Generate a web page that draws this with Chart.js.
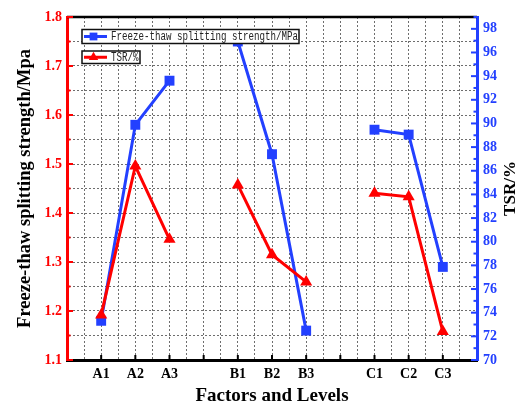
<!DOCTYPE html>
<html>
<head>
<meta charset="utf-8">
<title>Freeze-thaw splitting strength and TSR</title>
<script src="https://cdn.jsdelivr.net/npm/chart.js@4.4.1/dist/chart.umd.min.js"></script>
<style>
  html, body { margin: 0; padding: 0; background: #fff; }
  #wrap { width: 523px; height: 408px; }
</style>
</head>
<body>
<div id="wrap"><canvas id="chart" width="523" height="408"></canvas></div>
<script>
// factor levels and where they sit on the x axis (4 and 8 are spacers between factors)
const levels = ['A1', 'A2', 'A3', 'B1', 'B2', 'B3', 'C1', 'C2', 'C3'];
const levelPos = [1, 2, 3, 5, 6, 7, 9, 10, 11];
const gapPos = [4, 8];

// freeze-thaw splitting strength (MPa), left axis
const strength = [1.18, 1.58, 1.67, 1.75, 1.52, 1.16, 1.57, 1.56, 1.29];
// tensile strength ratio (%), right axis
const tsr = [73.8, 86.4, 80.2, 84.8, 78.9, 76.6, 84.1, 83.8, 72.4];

const BLUE = '#2340ff';
const RED = '#ff0000';
const GRID = '#6e6e6e';
const SERIF = '"Liberation Serif", "Times New Roman", serif';

// builds {x,y} points with null breaks so each factor's line stands alone
function toPoints(values) {
    const pts = levelPos.map((x, i) => ({ x: x, y: values[i] }));
    gapPos.forEach(g => pts.push({ x: g, y: null }));
    return pts.sort((a, b) => a.x - b.x);
}

const labelAt = {};
levelPos.forEach((p, i) => { labelAt[p] = levels[i]; });

// inward tick marks, top frame line and right-hand title
const frameTicks = {
    id: 'frameTicks',
    beforeDatasetsDraw(chart) {
        const { ctx, chartArea: a, scales } = chart;
        const line = (x1, y1, x2, y2) => {
            ctx.beginPath();
            ctx.moveTo(x1, y1);
            ctx.lineTo(x2, y2);
            ctx.stroke();
        };
        ctx.save();
        ctx.strokeStyle = '#000';
        ctx.lineWidth = 2.5;
        line(a.left, a.top, a.right, a.top);

        ctx.lineWidth = 2;
        ctx.strokeStyle = RED;
        for (let k = 0; k <= 14; k++) {
            const py = scales.y.getPixelForValue(1.1 + k * 0.05);
            line(a.left, py, a.left + (k % 2 === 0 ? 6 : 3.5), py);
        }

        ctx.strokeStyle = BLUE;
        for (let v = 70; v <= 99; v++) {
            const py = scales.y1.getPixelForValue(v);
            line(a.right, py, a.right - (v % 2 === 0 ? 6 : 3.5), py);
        }

        ctx.strokeStyle = '#000';
        for (let i = 1; i <= 11; i++) {
            const px = scales.x.getPixelForValue(i);
            line(px, a.bottom, px, a.bottom - 5);
        }

        ctx.fillStyle = '#000';
        ctx.font = 'bold 17px ' + SERIF;
        ctx.textAlign = 'center';
        ctx.textBaseline = 'middle';
        ctx.translate(511, (a.top + a.bottom) / 2);
        ctx.rotate(-Math.PI / 2);
        ctx.fillText('TSR/%', 0, 0);
        ctx.restore();
    }
};

// two separate framed legend entries in the upper left
const boxedLegend = {
    id: 'boxedLegend',
    afterDraw(chart) {
        const { ctx } = chart;
        const entries = [
            { ds: chart.data.datasets[1], x: 82, y: 29.5, w: 217, h: 14 },
            { ds: chart.data.datasets[0], x: 82, y: 51, w: 58, h: 12.5 }
        ];
        ctx.save();
        entries.forEach(e => {
            const cy = e.y + e.h / 2;
            ctx.fillStyle = '#fff';
            ctx.fillRect(e.x, e.y, e.w, e.h);
            ctx.strokeStyle = '#111';
            ctx.lineWidth = 1.5;
            ctx.strokeRect(e.x, e.y, e.w, e.h);

            ctx.strokeStyle = e.ds.borderColor;
            ctx.lineWidth = 3;
            ctx.beginPath();
            ctx.moveTo(e.x + 2, cy);
            ctx.lineTo(e.x + 25, cy);
            ctx.stroke();
            ctx.fillStyle = e.ds.borderColor;
            Chart.helpers.drawPoint(ctx, { pointStyle: e.ds.pointStyle, radius: 5.5, borderWidth: 0 }, e.x + 11.5, cy);

            ctx.fillStyle = '#222';
            ctx.font = '12.5px "Liberation Mono", "DejaVu Sans Mono", monospace';
            ctx.textAlign = 'left';
            ctx.textBaseline = 'middle';
            const txt = e.ds.label;
            ctx.fillText(txt, e.x + 29, cy + 0.5, txt.length * 5.5);
        });
        ctx.restore();
    }
};

const gridDash = { dash: [2, 2] };

new Chart(document.getElementById('chart'), {
    type: 'line',
    data: {
        datasets: [
            {
                label: 'TSR/%',
                data: toPoints(tsr),
                yAxisID: 'y1',
                borderColor: RED,
                backgroundColor: RED,
                borderWidth: 3,
                pointStyle: 'triangle',
                pointRadius: 7,
                pointBorderWidth: 0,
                spanGaps: false,
                order: 0
            },
            {
                label: 'Freeze-thaw splitting strength/MPa',
                data: toPoints(strength),
                yAxisID: 'y',
                borderColor: BLUE,
                backgroundColor: BLUE,
                borderWidth: 3,
                pointStyle: 'rect',
                pointRadius: 7,
                pointBorderWidth: 0,
                spanGaps: false,
                order: 1
            }
        ]
    },
    options: {
        responsive: false,
        animation: false,
        devicePixelRatio: 1,
        layout: { padding: { top: 17, left: 0, right: 0, bottom: 0 } },
        plugins: {
            legend: { display: false },
            tooltip: { enabled: false }
        },
        scales: {
            x: {
                type: 'linear',
                min: 0,
                max: 12,
                afterFit(scale) { scale.height = 48; },
                ticks: {
                    stepSize: 0.5,
                    autoSkip: false,
                    maxRotation: 0,
                    padding: 6,
                    color: '#000',
                    font: { family: SERIF, size: 14, weight: 'bold' },
                    callback: v => labelAt[v] || ''
                },
                grid: { color: GRID, lineWidth: 1, drawTicks: false },
                border: { color: '#000', width: 3, ...gridDash },
                title: {
                    display: true,
                    text: 'Factors and Levels',
                    color: '#000',
                    font: { family: SERIF, size: 19, weight: 'bold' },
                    padding: { top: 0, bottom: 0.6 }
                }
            },
            y: {
                position: 'left',
                min: 1.1,
                max: 1.8,
                afterFit(scale) { scale.width = 67; },
                ticks: {
                    stepSize: 0.05,
                    padding: 5,
                    color: RED,
                    font: { family: SERIF, size: 14, weight: 'bold' },
                    callback: v => Math.round(v * 100) % 10 === 0 ? v.toFixed(1) : ''
                },
                grid: { color: GRID, lineWidth: 1, drawTicks: false },
                border: { color: RED, width: 3, ...gridDash },
                title: {
                    display: true,
                    text: 'Freeze-thaw splitting strength/Mpa',
                    color: '#000',
                    font: { family: SERIF, size: 18.5, weight: 'bold' },
                    padding: { top: 14, bottom: 0 }
                }
            },
            y1: {
                position: 'right',
                min: 70,
                max: 99,
                afterFit(scale) { scale.width = 46; },
                ticks: {
                    stepSize: 2,
                    includeBounds: false,
                    padding: 6,
                    color: BLUE,
                    font: { family: SERIF, size: 14, weight: 'bold' },
                    callback: v => v % 2 === 0 ? String(v) : ''
                },
                grid: { display: false, drawTicks: false },
                border: { color: BLUE, width: 3 }
            }
        }
    },
    plugins: [frameTicks, boxedLegend]
});
</script>
</body>
</html>
